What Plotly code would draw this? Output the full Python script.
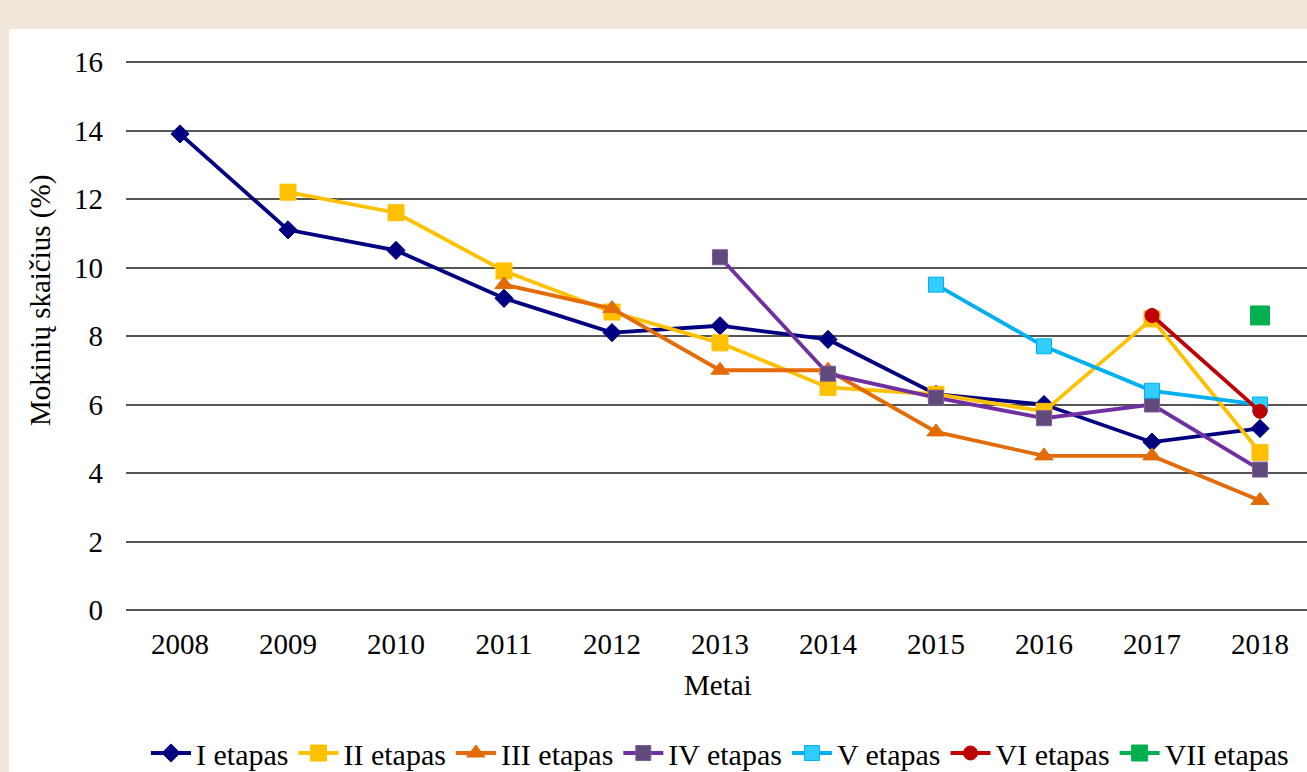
import plotly.graph_objects as go

years = [2008, 2009, 2010, 2011, 2012, 2013, 2014, 2015, 2016, 2017, 2018]

etapas_I = [13.9, 11.1, 10.5, 9.1, 8.1, 8.3, 7.9, 6.3, 6.0, 4.9, 5.3]
etapas_II = [None, 12.2, 11.6, 9.9, 8.7, 7.8, 6.5, 6.3, 5.8, 8.5, 4.6]
etapas_III = [None, None, None, 9.5, 8.8, 7.0, 7.0, 5.2, 4.5, 4.5, 3.2]
etapas_IV = [None, None, None, None, None, 10.3, 6.9, 6.2, 5.6, 6.0, 4.1]
etapas_V = [None, None, None, None, None, None, None, 9.5, 7.7, 6.4, 6.0]
etapas_VI = [None, None, None, None, None, None, None, None, None, 8.6, 5.8]
etapas_VII = [None, None, None, None, None, None, None, None, None, None, 8.6]

series_names = ["I etapas", "II etapas", "III etapas", "IV etapas",
                "V etapas", "VI etapas", "VII etapas"]
y_ticks = [0, 2, 4, 6, 8, 10, 12, 14, 16]

FONT = "Liberation Serif, Times New Roman, serif"

styles = [
    dict(color="#000080", symbol="diamond", size=14, mfill="#000080", mline="#000080"),
    dict(color="#FFC000", symbol="square", size=16, mfill="#FFC000", mline="#FFC000"),
    dict(color="#E36C09", symbol="triangle-up", size=16, mfill="#E36C09", mline="#E36C09"),
    dict(color="#7030A0", symbol="square", size=15, mfill="#604A7B", mline="#7F5C9E"),
    dict(color="#00B0F0", symbol="square", size=15, mfill="#33CCFF", mline="#00B0F0"),
    dict(color="#C00000", symbol="circle", size=14, mfill="#C00000", mline="#C00000"),
    dict(color="#00B050", symbol="square", size=19, mfill="#00B050", mline="#00B050"),
]

data = [etapas_I, etapas_II, etapas_III, etapas_IV, etapas_V, etapas_VI, etapas_VII]

fig = go.Figure()
for name, vals, st in zip(series_names, data, styles):
    fig.add_trace(go.Scatter(
        x=years, y=vals, name=name, mode="lines+markers",
        line=dict(color=st["color"], width=3.8),
        marker=dict(symbol=st["symbol"], size=st["size"], color=st["mfill"],
                    line=dict(color=st["mline"], width=1)),
        connectgaps=False,
    ))

W, H = 1307, 772
L, R, T, B = 126, 0, 61, 162
pw = W - L - R
ph = H - T - B

def px_x(px):
    return (px - L) / pw

def px_y(py):
    return (H - B - py) / ph

fig.update_layout(
    width=W, height=H,
    margin=dict(l=L, r=R, t=T, b=B, pad=0, autoexpand=False),
    paper_bgcolor="#F1E6DA",
    plot_bgcolor="white",
    font=dict(family=FONT, size=29, color="black"),
    showlegend=True,
    legend=dict(orientation="h", x=px_x(146), xanchor="left",
                y=px_y(727), yanchor="top",
                font=dict(family=FONT, size=30, color="black"),
                bgcolor="rgba(0,0,0,0)", itemwidth=40, tracegroupgap=0),
    xaxis=dict(range=[2007.5, 2018.5 - 7 / 108], tickvals=years,
               ticktext=[str(y) for y in years],
               showgrid=False, zeroline=False, showline=False,
               ticks="", ticklabelstandoff=14,
               tickfont=dict(family=FONT, size=29, color="black")),
    yaxis=dict(range=[0, 16.03], tickvals=y_ticks,
               showgrid=True, gridcolor="#555555", gridwidth=1.8,
               zeroline=True, zerolinecolor="#555555", zerolinewidth=1.8,
               showline=False, ticks="", ticklabelstandoff=22,
               tickfont=dict(family=FONT, size=29, color="black")),
    shapes=[dict(type="rect", xref="paper", yref="paper",
                 x0=px_x(9), x1=px_x(W + 5), y0=px_y(H + 5), y1=px_y(29),
                 fillcolor="white", line=dict(width=0), layer="below")],
    annotations=[
        dict(text="Mokinių skaičius (%)", xref="paper", yref="paper",
             x=px_x(40), y=px_y(301), textangle=-90, showarrow=False,
             xanchor="center", yanchor="middle",
             font=dict(family=FONT, size=29, color="black")),
        dict(text="Metai", xref="paper", yref="paper",
             x=px_x(718), y=px_y(685), showarrow=False,
             xanchor="center", yanchor="middle",
             font=dict(family=FONT, size=29, color="black")),
    ],
)

fig.write_html("out.html", config={"displayModeBar": False},
               post_script="document.body.style.margin='0';document.body.style.overflow='hidden';")
